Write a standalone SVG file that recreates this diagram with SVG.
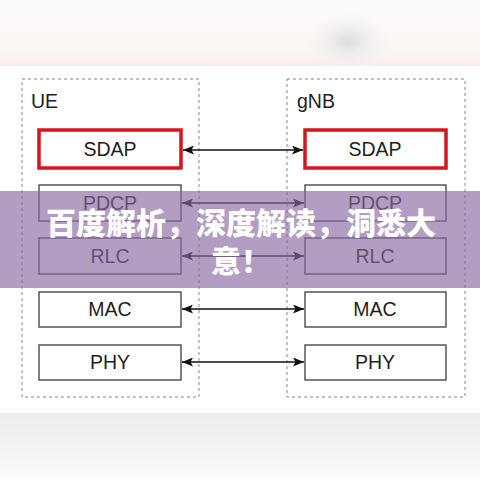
<svg xmlns="http://www.w3.org/2000/svg" width="480" height="480" viewBox="0 0 480 480">
<defs>
<radialGradient id="blobTop" cx="0.5" cy="0.5" r="0.5">
<stop offset="0" stop-color="#dcdcdc"/><stop offset="1" stop-color="#f4f4f4" stop-opacity="0"/>
</radialGradient>
<linearGradient id="bottomG" x1="0" y1="0" x2="0" y2="1">
<stop offset="0" stop-color="#ececec"/><stop offset="1" stop-color="#fbfbfb"/>
</linearGradient>
<linearGradient id="topG" x1="0" y1="0" x2="0" y2="1">
<stop offset="0" stop-color="#fafafa"/><stop offset="0.8" stop-color="#fbf6f6"/><stop offset="1" stop-color="#f8eced"/>
</linearGradient>
<marker id="ah" viewBox="0 0 11 9" refX="11" refY="4.5" markerWidth="11" markerHeight="9" markerUnits="userSpaceOnUse" orient="auto-start-reverse">
<path d="M0,0 L11,4.5 L0,9 L2.5,4.5 Z" fill="#111"/>
</marker>
<style>
.grp{fill:none;stroke:#8a8a8a;stroke-width:1;stroke-dasharray:3,3}
.box{fill:#fff;stroke:#555;stroke-width:1.5}
.red{fill:#fff;stroke:#d4151d;stroke-width:3.5}
.lbl{font-family:"Liberation Sans",Arial,sans-serif;font-size:19.5px;fill:#1e1e1e;text-anchor:middle}
.ttl{font-family:"Liberation Sans",Arial,sans-serif;font-size:19.5px;fill:#1e1e1e}
.conn line{stroke:#111;stroke-width:1.6;marker-start:url(#ah);marker-end:url(#ah)}
.ban{font-family:"Noto Sans CJK SC","Noto Sans CJK JP",sans-serif;font-weight:900;font-size:30px;fill:#fff;text-anchor:middle}
</style>
</defs>
<rect x="0" y="0" width="480" height="480" fill="#fdfdfd"/>
<rect x="0" y="0" width="480" height="66" fill="url(#topG)"/>
<ellipse cx="348" cy="42" rx="45" ry="30" fill="url(#blobTop)"/>
<rect x="0" y="413" width="480" height="67" fill="url(#bottomG)"/>
<rect x="0" y="66" width="480" height="347" fill="#ffffff"/>

<g id="UE">
<rect class="grp" x="22" y="79" width="177" height="318"/>
<text class="ttl" x="31" y="108">UE</text>
</g>
<g id="gNB">
<rect class="grp" x="287" y="79" width="178" height="318"/>
<text class="ttl" x="297" y="108">gNB</text>
</g>

<g id="ue-sdap"><rect class="red" x="39" y="130" width="142" height="38"/><text class="lbl" x="110" y="156">SDAP</text></g>
<g id="ue-pdcp"><rect class="box" x="39" y="185" width="142" height="36"/><text class="lbl" x="110" y="210">PDCP</text></g>
<g id="ue-rlc"><rect class="box" x="39" y="238" width="142" height="36"/><text class="lbl" x="110" y="263">RLC</text></g>
<g id="ue-mac"><rect class="box" x="39" y="292" width="142" height="35"/><text class="lbl" x="110" y="316">MAC</text></g>
<g id="ue-phy"><rect class="box" x="39" y="345" width="142" height="35"/><text class="lbl" x="110" y="369">PHY</text></g>

<g id="gnb-sdap"><rect class="red" x="305" y="130" width="141" height="38"/><text class="lbl" x="375" y="156">SDAP</text></g>
<g id="gnb-pdcp"><rect class="box" x="305" y="185" width="141" height="36"/><text class="lbl" x="375" y="210">PDCP</text></g>
<g id="gnb-rlc"><rect class="box" x="305" y="238" width="141" height="36"/><text class="lbl" x="375" y="263">RLC</text></g>
<g id="gnb-mac"><rect class="box" x="305" y="292" width="141" height="35"/><text class="lbl" x="375" y="316">MAC</text></g>
<g id="gnb-phy"><rect class="box" x="305" y="345" width="141" height="35"/><text class="lbl" x="375" y="369">PHY</text></g>

<g id="connectors" class="conn">
<line x1="183" y1="150" x2="303" y2="150"/>
<line x1="182" y1="203" x2="304" y2="203"/>
<line x1="182" y1="256" x2="304" y2="256"/>
<line x1="182" y1="309" x2="304" y2="309"/>
<line x1="182" y1="362" x2="304" y2="362"/>
</g>

<g id="banner">
<rect x="0" y="191" width="480" height="97" fill="rgb(138,105,161)" fill-opacity="0.65"/>
<text class="ban" x="241" y="234">百度解析，深度解读，洞悉大</text>
<text class="ban" x="241" y="272">意！</text>
</g>
</svg>
